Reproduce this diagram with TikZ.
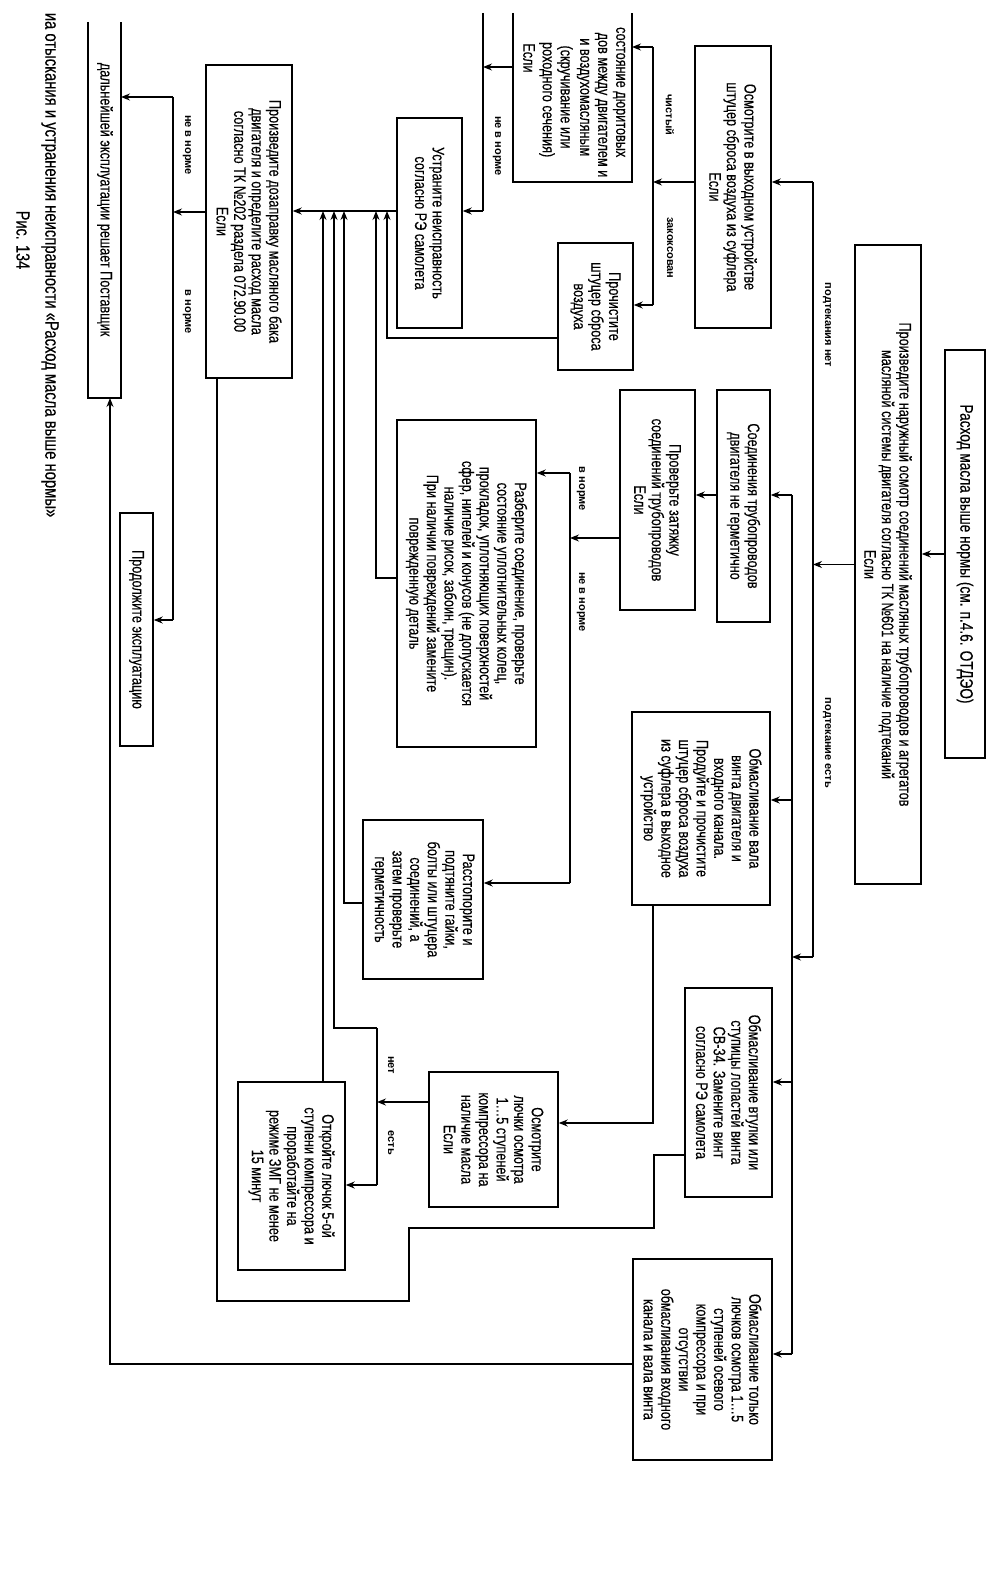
\documentclass[tikz,border=0pt]{standalone}
\usepackage{fontspec}
\setmainfont{Liberation Sans}[FakeStretch=0.76,FakeBold=0.3]
\newfontfamily\lblfont{Liberation Sans}
\usetikzlibrary{arrows.meta}
\begin{document}
\begin{tikzpicture}[x=1pt,y=-1pt,
  line width=1.4pt,
  box/.style={draw, line width=1.5pt, rotate=-90, align=center, inner sep=1pt,
    font=\fontsize{16.7}{17.6}\selectfont},
  frag/.style={rotate=-90, inner sep=0pt, font=\fontsize{16.7}{17.6}\selectfont},
  lbl/.style={rotate=-90, inner sep=0pt, font=\lblfont\bfseries\fontsize{11}{13}\selectfont},
  arr/.style={-{Stealth[length=9pt,width=7pt,inset=3pt]}},
  boxline/.style={line width=1.5pt}]
\fill[white] (0,0) rectangle (1000,1584);
\useasboundingbox (0,0) rectangle (1000,1584);

% ---- boxes ----
\node[box, minimum width=408, minimum height=40, font=\fontsize{18}{20}\selectfont] (Title) at (965,554)
  {Расход масла выше нормы (см. п.4.6. ОТДЭО)};
\node[box, minimum width=639, minimum height=66] (Main) at (888,564.5)
  {Произведите наружный осмотр соединений масляных трубопроводов и агрегатов\\
   масляной системы двигателя согласно ТК №601 на наличие подтеканий\\ Если};
\node[box, minimum width=282, minimum height=76] (Osm) at (733,187)
  {Осмотрите в выходном устройстве\\ штуцер сброса воздуха из суфлера\\ Если};
\node[box, minimum width=127, minimum height=75] (Proch) at (595.5,306.5)
  {Прочистите\\ штуцер сброса\\ воздуха};
\node[box, minimum width=210, minimum height=65] (Ustr) at (429.5,223)
  {Устраните неисправность\\ согласно РЭ самолета};
\node[box, minimum width=313, minimum height=86] (Doz) at (249,221.5)
  {Произведите дозаправку масляного бака\\ двигателя и определите расход масла\\
   согласно ТК №202 раздела 072.90.00\\ Если};
\node[box, minimum width=233, minimum height=33] (Prod) at (136.5,629.5)
  {Продолжите эксплуатацию};
\node[box, minimum width=232, minimum height=53] (Soed) at (743.5,506)
  {Соединения трубопроводов\\ двигателя не герметично};
\node[box, minimum width=220, minimum height=75] (Prov) at (657.5,500)
  {Проверьте затяжку\\ соединений трубопроводов\\ Если};
\node[box, minimum width=327, minimum height=139] (Razb) at (466.5,583.5)
  {Разберите соединение, проверьте\\ состояние уплотнительных колец,\\
   прокладок, уплотняющих поверхностей\\ сфер, нипелей и конусов (не допускается\\
   наличие рисок, забоин, трещин).\\ При наличии повреждений замените\\ поврежденную деталь};
\node[box, minimum width=193, minimum height=138] (Val) at (701,808.5)
  {Обмасливание вала\\ винта двигателя и\\ входного канала.\\ Продуйте и прочистите\\
   штуцер сброса воздуха\\ из суфлера в выходное\\ устройство};
\node[box, minimum width=159, minimum height=120] (Rass) at (423,899.5)
  {Расстопорите и\\ подтяните гайки,\\ болты или штуцера\\ соединений, а\\ затем проверьте\\ герметичность};
\node[box, minimum width=209, minimum height=87] (Vtul) at (728.5,1092.5)
  {Обмасливание втулки или\\ ступицы лопастей винта\\ СВ-34. Замените винт\\ согласно РЭ самолета};
\node[box, minimum width=135, minimum height=129] (Lyuch) at (493.5,1139.5)
  {Осмотрите\\ лючки осмотра\\ 1…5 ступеней\\ компрессора на\\ наличие масла\\ Если};
\node[box, minimum width=188, minimum height=107] (Otkr) at (291.5,1176)
  {Откройте лючок 5-ой\\ ступени компрессора и\\ проработайте на\\ режиме ЗМГ не менее\\ 15 минут};
\node[box, minimum width=201, minimum height=139] (Last) at (702.5,1359.5)
  {Обмасливание только\\ лючков осмотра 1…5\\ ступеней осевого\\ компрессора и при\\ отсутствии\\
   обмасливания входного\\ канала и вала винта};

% ---- boxes cut by the page edge ----
\draw[boxline] (513,13) -- (513,182) -- (632,182) -- (632,13);
\node[frag, anchor=east] (dur1) at (619,158) {состояние дюритовых};
\node[frag, anchor=east] (dur2) at (601,178) {дов между двигателем и};
\node[frag, anchor=east] (dur3) at (583,157) {и воздухомасляным};
\node[frag] (dur4) at (565,97) {(скручивание или};
\node[frag, anchor=east] (dur5) at (547,158) {роходного сечения)};
\node[frag] (dur6) at (529,58) {Если};
\coordinate (durR) at (632,47);
\coordinate (durL) at (513,67);

\draw[boxline] (88,22) -- (88,398) -- (121,398) -- (121,22);
\node[frag, anchor=east] (post) at (105,337) {дальнейшей эксплуатации решает Поставщик};
\coordinate (postR) at (121,97);
\coordinate (postB) at (110,398);

% ---- caption ----
\node[frag, anchor=east, font=\fontsize{19.5}{20}\selectfont] (cap) at (50,518)
  {иа отыскания и устранения неисправности «Расход масла выше нормы»};
\node[frag, font=\fontsize{19}{20}\selectfont] (fig) at (23,240) {Рис. 134};

% ---- connectors ----
\coordinate (ma) at (813,182);
\coordinate (mb) at (813,957);
\coordinate (ba) at (792,495);
\coordinate (bv) at (792,800);
\coordinate (bt) at (792,1082);
\coordinate (bb) at (792,1354);
\draw[arr] (Title.south) -- (Title.south -| Main.north);
\draw[arr] (Main.south) -- (Main.south -| ma);
\draw[arr] (ma) -- (Osm.north |- ma);
\draw (ma) -- (mb);
\draw[arr] (mb) -- (mb -| ba);
\draw (ba) -- (bb);
\draw[arr] (ba) -- (Soed.north |- ba);
\draw[arr] (bv) -- (Val.north |- bv);
\draw[arr] (bt) -- (Vtul.north |- bt);
\draw[arr] (bb) -- (Last.north |- bb);

\coordinate (cm) at (653,182);
\coordinate (ca) at (653,47);
\coordinate (cb) at (653,305);
\draw[arr] (Osm.south |- cm) -- (cm);
\draw (ca) -- (cb);
\draw[arr] (ca) -- (durR);
\draw[arr] (cb) -- (Proch.north |- cb);

\coordinate (da) at (483,67);
\coordinate (dtop) at (483,13);
\coordinate (db) at (483,211);
\draw[arr] (durL) -- (da);
\draw (dtop) -- (db);
\draw[arr] (db) -- (Ustr.north |- db);
\draw[arr] (Ustr.south |- db) -- (Doz.north |- db);

\coordinate (e1) at (387,211);
\coordinate (e2) at (376,211);
\coordinate (e3) at (344,211);
\coordinate (e4) at (334,211);
\coordinate (e5) at (323,211);
\coordinate (pp) at (387,338);
\coordinate (rr) at (376,578);
\coordinate (ss) at (344,903);
\draw[arr] (Proch.south |- pp) -- (pp) -- (e1);
\draw[arr] (Razb.south |- rr) -- (rr) -- (e2);
\draw[arr] (Rass.south |- ss) -- (ss) -- (e3);

\coordinate (la) at (377,1102);
\coordinate (lb) at (377,1028);
\coordinate (lc) at (377,1185);
\coordinate (ld) at (334,1028);
\draw[arr] (Lyuch.south |- la) -- (la);
\draw (lb) -- (lc);
\draw[arr] (lb) -- (ld) -- (e4);
\draw[arr] (lc) -- (Otkr.north |- lc);
\draw[arr] (Otkr.west -| e5) -- (e5);

\draw[arr] (Soed.south |- ba) -- (Prov.north |- ba);
\coordinate (pa) at (570,538);
\coordinate (pb) at (570,473);
\coordinate (pc) at (570,883);
\draw[arr] (Prov.south |- pa) -- (pa);
\draw (pb) -- (pc);
\draw[arr] (pb) -- (Razb.north |- pb);
\draw[arr] (pc) -- (Rass.north |- pc);

\coordinate (va) at (653,1123);
\draw[arr] (Val.east -| va) -- (va) -- (Lyuch.north |- va);

\coordinate (t1) at (654,1155);
\coordinate (t2) at (654,1228);
\coordinate (t3) at (409,1228);
\coordinate (t4) at (409,1301);
\coordinate (t5) at (217,1301);
\draw (Vtul.south |- t1) -- (t1) -- (t2) -- (t3) -- (t4) -- (t5) -- (Doz.east -| t5);

\coordinate (u1) at (110,1364);
\draw[arr] (Last.south |- u1) -- (u1) -- (postB);

\coordinate (oa) at (173,212);
\coordinate (ob) at (173,97);
\coordinate (oc) at (173,620);
\draw[arr] (Doz.south |- oa) -- (oa);
\draw (ob) -- (oc);
\draw[arr] (ob) -- (postR);
\draw[arr] (oc) -- (Prod.north |- oc);

% ---- labels ----
\node[lbl] (l1) at (670,115) {чистый};
\node[lbl] (l2) at (670,248) {закоксован};
\node[lbl] (l3) at (827,325) {подтекания нет};
\node[lbl] (l4) at (827,743) {подтекание есть};
\node[lbl] (l5) at (497,146) {не в норме};
\node[lbl] (l6) at (581,489) {в норме};
\node[lbl] (l7) at (581,602) {не в норме};
\node[lbl] (l8) at (187,145) {не в норме};
\node[lbl] (l9) at (187,312) {в норме};
\node[lbl] (l10) at (391,1065) {нет};
\node[lbl] (l11) at (391,1143) {есть};
\end{tikzpicture}
\end{document}
